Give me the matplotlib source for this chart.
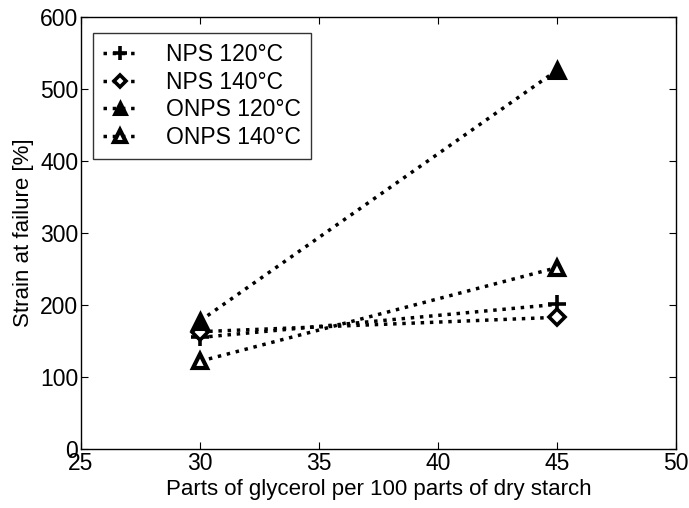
import matplotlib.pyplot as plt

plt.rcParams['font.family'] = ['Liberation Sans', 'DejaVu Sans']

# Datos
glycerol = [30, 45]
nps_120 = [155, 201]
nps_140 = [163, 183]
onps_120 = [178, 526]
onps_140 = [122, 252]

fig = plt.figure(figsize=(6.89, 5.08), dpi=100)
ax = fig.add_axes([0.1176, 0.116, 0.8635, 0.8505])

style = dict(color='black', linestyle=':', linewidth=2.5)
ax.plot(glycerol, nps_120, marker='+', markersize=13, markeredgewidth=2.6,
        label='NPS 120°C', **style)
ax.plot(glycerol, nps_140, marker='D', markersize=8, markerfacecolor='white',
        markeredgewidth=2.6, label='NPS 140°C', **style)
ax.plot(glycerol, onps_120, marker='^', markersize=11, markerfacecolor='black',
        markeredgewidth=2.2, label='ONPS 120°C', **style)
ax.plot(glycerol, onps_140, marker='^', markersize=10, markerfacecolor='white',
        markeredgewidth=3.0, label='ONPS 140°C', **style)

ax.set_xlim(25, 50)
ax.set_ylim(0, 600)
ax.set_xticks([25, 30, 35, 40, 45, 50])
ax.set_yticks([0, 100, 200, 300, 400, 500, 600])
ax.tick_params(direction='in', top=True, right=True, labelsize=16.5, length=5,
               pad=2)
for s in ax.spines.values():
    s.set_linewidth(1)

ax.set_xlabel('Parts of glycerol per 100 parts of dry starch', fontsize=16,
              labelpad=3)
ax.set_ylabel('Strain at failure [%]', fontsize=16, labelpad=4)

leg = ax.legend(loc='upper left', fontsize=16.5, frameon=True, fancybox=False,
                edgecolor='black', handlelength=1.5, handletextpad=1.25,
                borderpad=0.45, labelspacing=0.2, markerscale=0.8,
                borderaxespad=0, bbox_to_anchor=(0.02, 0.963))
leg.get_frame().set_linewidth(1)

fig.savefig('out.png', dpi=100)
